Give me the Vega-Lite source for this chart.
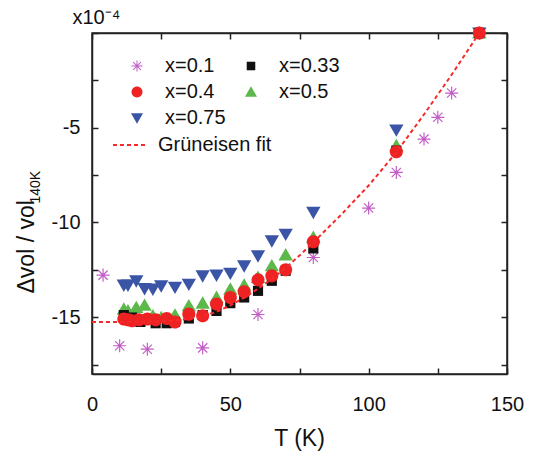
{
  "$schema": "https://vega.github.io/schema/vega-lite/v6.json",
  "width": 415,
  "height": 341,
  "autosize": {"type": "none"},
  "padding": {"left": 92, "top": 33, "right": 27, "bottom": 78},
  "background": "white",
  "config": {
    "font": "Liberation Sans",
    "view": {"stroke": "#222", "strokeWidth": 1.5},
    "axis": {
      "grid": false,
      "domainColor": "#222",
      "domainWidth": 1.5,
      "tickColor": "#222",
      "tickWidth": 1.5,
      "tickSize": -6,
      "labelColor": "#111",
      "titleColor": "#111",
      "labelFont": "Liberation Sans",
      "titleFont": "Liberation Sans",
      "titleFontWeight": "normal",
      "labelOverlap": false,
      "labelFlush": false,
      "labelBound": false
    }
  },
  "datasets": {
    "fit": [
      {"name": "Grüneisen fit", "T": 0, "v": -15.25},
      {"name": "Grüneisen fit", "T": 10, "v": -15.25},
      {"name": "Grüneisen fit", "T": 20, "v": -15.24},
      {"name": "Grüneisen fit", "T": 30, "v": -15.18},
      {"name": "Grüneisen fit", "T": 35, "v": -15.08},
      {"name": "Grüneisen fit", "T": 40, "v": -14.95},
      {"name": "Grüneisen fit", "T": 45, "v": -14.72},
      {"name": "Grüneisen fit", "T": 50, "v": -14.38},
      {"name": "Grüneisen fit", "T": 55, "v": -13.97},
      {"name": "Grüneisen fit", "T": 60, "v": -13.5},
      {"name": "Grüneisen fit", "T": 65, "v": -12.98},
      {"name": "Grüneisen fit", "T": 70, "v": -12.4},
      {"name": "Grüneisen fit", "T": 75, "v": -11.75},
      {"name": "Grüneisen fit", "T": 80, "v": -11.05},
      {"name": "Grüneisen fit", "T": 90, "v": -9.6},
      {"name": "Grüneisen fit", "T": 100, "v": -8.05},
      {"name": "Grüneisen fit", "T": 110, "v": -6.3},
      {"name": "Grüneisen fit", "T": 120, "v": -4.3},
      {"name": "Grüneisen fit", "T": 130, "v": -2.2},
      {"name": "Grüneisen fit", "T": 140, "v": 0}
    ],
    "pts": [
      {"s": "x=0.1", "T": 4, "v": -12.78},
      {"s": "x=0.1", "T": 10, "v": -16.51},
      {"s": "x=0.1", "T": 20, "v": -16.69},
      {"s": "x=0.1", "T": 40, "v": -16.62},
      {"s": "x=0.1", "T": 60, "v": -14.86},
      {"s": "x=0.1", "T": 80, "v": -11.85},
      {"s": "x=0.1", "T": 100, "v": -9.24},
      {"s": "x=0.1", "T": 110, "v": -7.36},
      {"s": "x=0.1", "T": 120, "v": -5.6},
      {"s": "x=0.1", "T": 125, "v": -4.45},
      {"s": "x=0.1", "T": 130, "v": -3.17},
      {"s": "x=0.1", "T": 140, "v": 0},
      {"s": "x=0.75", "T": 11.5, "v": -13.31},
      {"s": "x=0.75", "T": 13, "v": -13.31},
      {"s": "x=0.75", "T": 16, "v": -13.08},
      {"s": "x=0.75", "T": 19, "v": -13.49},
      {"s": "x=0.75", "T": 22, "v": -13.52},
      {"s": "x=0.75", "T": 25, "v": -13.35},
      {"s": "x=0.75", "T": 30, "v": -13.42},
      {"s": "x=0.75", "T": 35, "v": -13.26},
      {"s": "x=0.75", "T": 40, "v": -12.82},
      {"s": "x=0.75", "T": 45, "v": -12.78},
      {"s": "x=0.75", "T": 50, "v": -12.68},
      {"s": "x=0.75", "T": 55, "v": -12.29},
      {"s": "x=0.75", "T": 60, "v": -11.76},
      {"s": "x=0.75", "T": 65, "v": -10.97},
      {"s": "x=0.75", "T": 70, "v": -10.62},
      {"s": "x=0.75", "T": 80, "v": -9.47},
      {"s": "x=0.75", "T": 110, "v": -5.12},
      {"s": "x=0.75", "T": 140, "v": 0},
      {"s": "x=0.5", "T": 11.5, "v": -14.58},
      {"s": "x=0.5", "T": 13, "v": -14.67},
      {"s": "x=0.5", "T": 16, "v": -14.49},
      {"s": "x=0.5", "T": 19, "v": -14.37},
      {"s": "x=0.5", "T": 22, "v": -14.93},
      {"s": "x=0.5", "T": 25, "v": -15.02},
      {"s": "x=0.5", "T": 30, "v": -14.89},
      {"s": "x=0.5", "T": 35, "v": -14.4},
      {"s": "x=0.5", "T": 40, "v": -14.26},
      {"s": "x=0.5", "T": 45, "v": -13.96},
      {"s": "x=0.5", "T": 50, "v": -13.52},
      {"s": "x=0.5", "T": 55, "v": -13.31},
      {"s": "x=0.5", "T": 60, "v": -12.9},
      {"s": "x=0.5", "T": 65, "v": -12.29},
      {"s": "x=0.5", "T": 70, "v": -11.71},
      {"s": "x=0.5", "T": 80, "v": -10.79},
      {"s": "x=0.5", "T": 110, "v": -5.95},
      {"s": "x=0.5", "T": 140, "v": 0},
      {"s": "x=0.33", "T": 11.5, "v": -14.89},
      {"s": "x=0.33", "T": 14.5, "v": -15.02},
      {"s": "x=0.33", "T": 17.5, "v": -15.25},
      {"s": "x=0.33", "T": 23, "v": -15.32},
      {"s": "x=0.33", "T": 27, "v": -15.32},
      {"s": "x=0.33", "T": 30, "v": -15.25},
      {"s": "x=0.33", "T": 35, "v": -15.07},
      {"s": "x=0.33", "T": 40, "v": -14.89},
      {"s": "x=0.33", "T": 45, "v": -14.67},
      {"s": "x=0.33", "T": 50, "v": -14.26},
      {"s": "x=0.33", "T": 55, "v": -13.96},
      {"s": "x=0.33", "T": 60, "v": -13.61},
      {"s": "x=0.33", "T": 65, "v": -13.08},
      {"s": "x=0.33", "T": 70, "v": -12.55},
      {"s": "x=0.33", "T": 80, "v": -11.37},
      {"s": "x=0.33", "T": 110, "v": -6.21},
      {"s": "x=0.33", "T": 140, "v": 0},
      {"s": "x=0.4", "T": 11.5, "v": -15.1},
      {"s": "x=0.4", "T": 13, "v": -15.14},
      {"s": "x=0.4", "T": 14.5, "v": -15.19},
      {"s": "x=0.4", "T": 17, "v": -15.14},
      {"s": "x=0.4", "T": 20, "v": -15.1},
      {"s": "x=0.4", "T": 23, "v": -15.14},
      {"s": "x=0.4", "T": 27, "v": -15.07},
      {"s": "x=0.4", "T": 30, "v": -15.25},
      {"s": "x=0.4", "T": 35, "v": -14.84},
      {"s": "x=0.4", "T": 40, "v": -14.93},
      {"s": "x=0.4", "T": 45, "v": -14.31},
      {"s": "x=0.4", "T": 50, "v": -13.96},
      {"s": "x=0.4", "T": 55, "v": -13.66},
      {"s": "x=0.4", "T": 60, "v": -13.03},
      {"s": "x=0.4", "T": 65, "v": -12.82},
      {"s": "x=0.4", "T": 70, "v": -12.5},
      {"s": "x=0.4", "T": 80, "v": -11.02},
      {"s": "x=0.4", "T": 110, "v": -6.27},
      {"s": "x=0.4", "T": 140, "v": 0}
    ]
  },
  "layer": [
    {
      "data": {"name": "pts"},
      "mark": {"type": "point", "filled": true, "opacity": 1, "strokeWidth": 0, "size": 170},
      "encoding": {
        "x": {"field": "T", "type": "quantitative", "scale": {"domain": [0, 150], "nice": false, "zero": false}, "axis": null},
        "y": {"field": "v", "type": "quantitative", "scale": {"domain": [-18, 0], "nice": false, "zero": false}, "axis": null},
        "color": {
          "field": "s", "type": "nominal",
          "scale": {"domain": ["x=0.1", "x=0.33", "x=0.4", "x=0.5", "x=0.75"], "range": ["#c25cc6", "#111111", "#ee2222", "#5cb84a", "#3b55a6"]},
          "legend": {"orient": "none", "direction": "horizontal", "legendX": 35, "legendY": 23, "columns": 2, "title": null, "labelFontSize": 20, "labelFont": "Liberation Sans", "labelColor": "#111", "symbolSize": 120, "labelOffset": 18, "columnPadding": 15, "rowPadding": 6, "padding": 0, "symbolStrokeWidth": 0}
        },
        "shape": {
          "field": "s", "type": "nominal",
          "scale": {"domain": ["x=0.1", "x=0.33", "x=0.4", "x=0.5", "x=0.75"], "range": [
            "M-0.09,-1H0.09V1H-0.09ZM-1,-0.09H1V0.09H-1ZM-0.644,-0.771L0.771,0.644L0.644,0.771L-0.771,-0.644ZM0.644,-0.771L0.771,-0.644L-0.644,0.771L-0.771,0.644Z",
            "M-0.78,-0.78H0.78V0.78H-0.78Z",
            "M-1,0A1,1 0 1,0 1,0A1,1 0 1,0 -1,0Z",
            "M0,-1.05L1.1,0.85L-1.1,0.85Z",
            "M0,1.05L1.1,-0.85L-1.1,-0.85Z"
          ]}
        }
      }
    },
    {
      "data": {"name": "fit"},
      "mark": {"type": "line", "strokeDash": [4, 3], "strokeWidth": 2},
      "encoding": {
        "x": {"field": "T", "type": "quantitative", "scale": {"domain": [0, 150], "nice": false, "zero": false},
          "axis": {"values": [0, 25, 50, 75, 100, 125, 150], "labelExpr": "datum.value % 50 == 0 ? datum.label : ''", "labelFontSize": 20, "labelPadding": 26, "title": "T (K)", "titleFontSize": 23, "titleX": 207, "titleY": 71, "titleBaseline": "alphabetic", "titleAlign": "center"}},
        "y": {"field": "v", "type": "quantitative", "scale": {"domain": [-18, 0], "nice": false, "zero": false},
          "axis": {"values": [-17.5, -15, -12.5, -10, -7.5, -5, -2.5, 0], "labelExpr": "(datum.value % 5 == 0 && datum.value != 0) ? '-' + abs(datum.value) : ''", "labelFontSize": 20, "labelPadding": 18, "title": "Δvol / vol", "titleFontSize": 23, "titleAngle": -90, "titleX": -59, "titleY": 260, "titleAlign": "left", "titleBaseline": "alphabetic"}},
        "stroke": {
          "field": "name", "type": "nominal",
          "scale": {"range": ["#f52a2a"]},
          "legend": {"orient": "none", "legendX": 20, "legendY": 94, "title": null, "labelFontSize": 20, "labelFont": "Liberation Sans", "labelColor": "#111", "symbolType": "stroke", "symbolSize": 1156, "symbolStrokeWidth": 2, "symbolDash": [4, 3], "labelOffset": 10, "padding": 0}
        }
      }
    },
    {
      "data": {"name": "fit"},
      "mark": {"type": "point", "opacity": 0},
      "encoding": {
        "x": {"field": "T", "type": "quantitative", "scale": {"domain": [0, 150], "nice": false, "zero": false},
          "axis": {"orient": "top", "values": [0, 25, 50, 75, 100, 125, 150], "labels": false, "title": "x10⁻⁴", "titleFontSize": 20, "titleX": -20, "titleY": -10, "titleAlign": "left", "titleBaseline": "alphabetic", "titleAngle": 0}},
        "y": {"field": "v", "type": "quantitative", "scale": {"domain": [-18, 0], "nice": false, "zero": false},
          "axis": {"orient": "right", "values": [-17.5, -15, -12.5, -10, -7.5, -5, -2.5, 0], "labels": false, "title": null}}
      }
    },
    {
      "data": {"name": "fit"},
      "mark": {"type": "point", "opacity": 0},
      "encoding": {
        "x": {"field": "T", "type": "quantitative", "scale": {"domain": [0, 150], "nice": false, "zero": false}, "axis": null},
        "y": {"field": "v", "type": "quantitative", "scale": {"domain": [-18, 0], "nice": false, "zero": false},
          "axis": {"orient": "left", "labels": false, "ticks": false, "domain": false, "title": "140K", "titleFontSize": 14, "titleAngle": -90, "titleX": -53, "titleY": 170, "titleAlign": "left", "titleBaseline": "alphabetic"}}
      }
    }
  ],
  "resolve": {"axis": {"x": "independent", "y": "independent"}}
}
